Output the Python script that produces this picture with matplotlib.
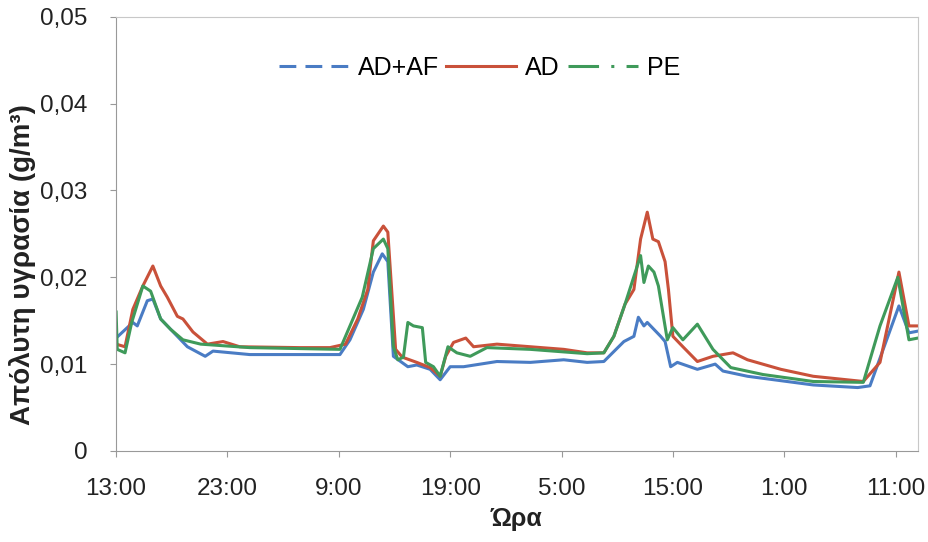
import matplotlib.pyplot as plt
from matplotlib.lines import Line2D

plt.rcParams['font.family'] = ['Liberation Sans', 'DejaVu Sans']

# hours since 13:00 on day one, absolute humidity in g/m3
ad_af_hours = [0, 1.5, 1.9, 2.8, 3.3, 4.0, 4.9, 6.4, 8.0, 8.7, 12.0, 20.1, 21.0, 22.2, 23.1,
               23.9, 24.4, 24.9, 26.2, 27.0, 28.2, 29.1, 30.0, 31.2, 34.2, 37.2, 40.2, 42.3,
               43.8, 45.6, 46.5, 46.9, 47.4, 47.7, 48.9, 49.3, 49.8, 50.4, 52.2, 53.8, 54.5,
               56.7, 62.6, 66.6, 67.7, 70.3, 71.2, 72.0]
ad_af = [0.0130, 0.0148, 0.0144, 0.0173, 0.0175, 0.0152, 0.0140, 0.0120, 0.0109, 0.0115,
         0.0111, 0.0111, 0.0128, 0.0163, 0.0206, 0.0227, 0.0218, 0.0109, 0.0097, 0.0099,
         0.0094, 0.0082, 0.0097, 0.0097, 0.0103, 0.0102, 0.0105, 0.0102, 0.0103, 0.0126,
         0.0132, 0.0154, 0.0144, 0.0148, 0.0132, 0.0126, 0.0097, 0.0102, 0.0094, 0.0100,
         0.0092, 0.0086, 0.0076, 0.0073, 0.0075, 0.0167, 0.0136, 0.0138]

ad_hours = [0, 0.8, 1.5, 2.4, 3.3, 4.0, 4.6, 5.5, 6.0, 6.9, 8.2, 9.6, 11.1, 16.5, 19.2, 20.6,
            21.7, 22.6, 23.1, 24.0, 24.4, 24.8, 25.1, 25.7, 27.0, 28.2, 29.1, 29.6, 30.3,
            31.4, 32.1, 34.2, 37.2, 40.2, 42.3, 43.8, 44.7, 45.7, 46.5, 47.1, 47.7, 48.2,
            48.7, 49.3, 49.6, 50.0, 50.9, 52.2, 53.6, 55.4, 56.7, 59.7, 62.6, 67.1, 68.6,
            70.3, 71.2, 72.0]
ad = [0.0123, 0.0120, 0.0163, 0.0190, 0.0213, 0.0190, 0.0177, 0.0155, 0.0152, 0.0137,
      0.0123, 0.0126, 0.0120, 0.0119, 0.0119, 0.0123, 0.0152, 0.0186, 0.0242, 0.0259,
      0.0252, 0.0175, 0.0117, 0.0108, 0.0102, 0.0096, 0.0086, 0.0109, 0.0125, 0.0130,
      0.0120, 0.0123, 0.0120, 0.0117, 0.0113, 0.0113, 0.0132, 0.0169, 0.0186, 0.0244,
      0.0275, 0.0244, 0.0241, 0.0218, 0.0186, 0.0132, 0.0120, 0.0103, 0.0109, 0.0113,
      0.0105, 0.0094, 0.0086, 0.0080, 0.0102, 0.0206, 0.0144, 0.0144]

pe_hours = [0, 0.1, 0.8, 1.4, 2.4, 3.1, 4.0, 4.9, 6.0, 7.6, 12.0, 20.1, 22.1, 23.1, 24.0,
            24.4, 24.9, 25.3, 25.8, 26.2, 26.7, 27.5, 27.8, 28.5, 29.1, 29.8, 30.6, 31.8,
            33.3, 37.2, 42.3, 43.8, 44.7, 45.7, 47.1, 47.4, 47.8, 48.3, 48.7, 49.5, 50.0,
            50.9, 52.2, 53.6, 55.2, 58.1, 62.6, 67.1, 68.6, 70.2, 71.2, 72.0]
pe = [0.0160, 0.0117, 0.0113, 0.0148, 0.0190, 0.0184, 0.0152, 0.0140, 0.0128, 0.0123,
      0.0119, 0.0117, 0.0177, 0.0233, 0.0244, 0.0233, 0.0120, 0.0105, 0.0108, 0.0148,
      0.0144, 0.0142, 0.0102, 0.0097, 0.0086, 0.0120, 0.0113, 0.0109, 0.0119, 0.0117,
      0.0112, 0.0113, 0.0132, 0.0169, 0.0225, 0.0194, 0.0213, 0.0206, 0.0190, 0.0128,
      0.0142, 0.0128, 0.0146, 0.0117, 0.0096, 0.0088, 0.0080, 0.0079, 0.0144, 0.0200,
      0.0128, 0.0130]

tick_hours = [0, 10, 20, 30, 40, 50, 60, 70]
tick_labels = ['13:00', '23:00', '9:00', '19:00', '5:00', '15:00', '1:00', '11:00']

blue = '#4a7cc4'
red = '#c9513a'
green = '#3f9a5a'

fig = plt.figure(figsize=(9.29, 5.42), dpi=100)
ax = fig.add_axes([0.125, 0.168, 0.863, 0.801])

ax.plot(ad_af_hours, ad_af, color=blue, lw=2.2)
ax.plot(ad_hours, ad, color=red, lw=2.2)
ax.plot(pe_hours, pe, color=green, lw=2.2)

ax.set_xlim(0, 72)
ax.set_ylim(0, 0.05)
ax.set_xticks(tick_hours)
ax.set_xticklabels(tick_labels)
ax.set_yticks([0, 0.01, 0.02, 0.03, 0.04, 0.05])
ax.set_yticklabels(['0', '0,01', '0,02', '0,03', '0,04', '0,05'])
ax.tick_params(labelsize=17.5, colors='#222222', length=4.5, color='#999999')
ax.tick_params(axis='x', pad=15)
ax.tick_params(axis='y', pad=16)

for s in ax.spines.values():
    s.set_color('#c8c8c8')
ax.spines['left'].set_color('#999999')
ax.spines['bottom'].set_color('#999999')

ax.set_ylabel('Απόλυτη υγρασία (g/m³)', fontsize=20, fontweight='bold', color='#222222')
ax.yaxis.set_label_coords(-0.100, 0.43)
ax.set_xlabel('Ώρα', fontsize=18, fontweight='bold', color='#222222', labelpad=5)

handles = [Line2D([], [], color=blue, lw=2.2, ls=(0, (5.5, 3))),
           Line2D([], [], color=red, lw=2.2),
           Line2D([], [], color=green, lw=2.2, ls=(0, (10, 4, 1, 4)))]
ax.legend(handles, ['AD+AF', 'AD', 'PE'], loc='center', bbox_to_anchor=(0.453, 0.882),
          ncol=3, frameon=False, fontsize=18, handlelength=2.8, columnspacing=0.3,
          handletextpad=0.36)

fig.savefig('out.png', dpi=100)
